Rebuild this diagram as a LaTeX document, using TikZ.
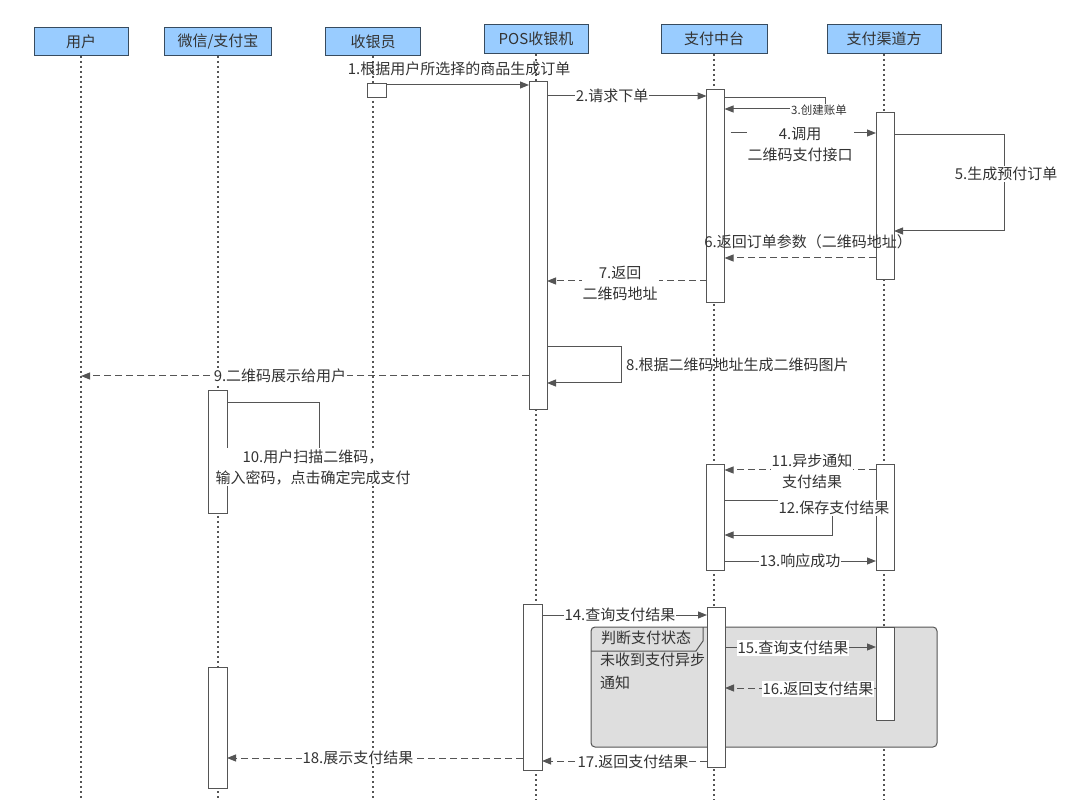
\documentclass[tikz,border=0pt]{standalone}
\usepackage{fontspec}
\setmainfont{Noto Sans CJK SC}
\usetikzlibrary{arrows.meta,calc}
\definecolor{hdfill}{RGB}{153,204,255}
\definecolor{hdline}{RGB}{55,75,95}
\definecolor{ln}{RGB}{85,85,85}
\definecolor{tx}{RGB}{51,51,51}
\definecolor{frm}{RGB}{222,222,222}
\begin{document}
\begin{tikzpicture}[x=1pt,y=-1pt,
  head/.style={draw=hdline, fill=hdfill, line width=1pt, inner sep=0pt, font=\fontsize{15}{18}\selectfont, text=tx},
  life/.style={draw=ln, line width=1.6pt, dash pattern=on 1.6pt off 3.4pt},
  act/.style={draw=ln, fill=white, line width=1pt, minimum width=18pt, inner sep=0pt, outer sep=0pt},
  msg/.style={draw=ln, line width=1pt, -{Triangle[length=9pt,width=7pt]}},
  ret/.style={msg, dash pattern=on 7pt off 4pt},
  lbl/.style={font=\fontsize{15}{21}\selectfont, text=tx, fill=white, inner sep=1pt, align=center},
  lblsmall/.style={lbl, font=\fontsize{11.5}{14}\selectfont},
  frame/.style={draw=ln, fill=frm, line width=1pt, rounded corners=4pt}
]
\useasboundingbox (0,0) rectangle (1080,810);

% headers
\node[head, minimum width=94pt, minimum height=28pt] (user) at (81,41.5) {用户};
\node[head, minimum width=107pt, minimum height=28pt] (wx) at (218,41.5) {微信/支付宝};
\node[head, minimum width=95pt, minimum height=28pt] (cash) at (373,41.5) {收银员};
\node[head, minimum width=104pt, minimum height=29pt] (pos) at (536,39) {POS收银机};
\node[head, minimum width=106pt, minimum height=29pt] (zt) at (714,39) {支付中台};
\node[head, minimum width=114pt, minimum height=29pt] (qd) at (884,39) {支付渠道方};

% lifelines
\draw[life] (user.south) -- (user.south |- 0,800);
\draw[life] (wx.south) -- (wx.south |- 0,800);
\draw[life] (cash.south) -- (cash.south |- 0,800);
\draw[life] (pos.south) -- (pos.south |- 0,800);
\draw[life] (zt.south) -- (zt.south |- 0,800);
\draw[life] (qd.south) -- (qd.south |- 0,800);

% frame
\path[frame] (591,627) rectangle (937,747);
\draw[draw=ln, line width=1pt] (591,651) -- (696,651) -- (703,641) -- (703,627);
\node[font=\fontsize{15}{18}\selectfont, text=tx, inner sep=0pt] (ftitle) at (646,638) {判断支付状态};
\node[font=\fontsize{15}{23}\selectfont, text=tx, inner sep=0pt, align=left, anchor=north west] (fcond) at (600,653) {未收到支付异步\\通知};

% activation boxes
\node[act, minimum width=19pt, minimum height=14pt] (cash1) at (376.5,91) {};
\node[act, minimum height=328pt] (pos1) at (538,246) {};
\node[act, minimum height=213pt] (zt1) at (715.5,196.5) {};
\node[act, minimum height=167pt] (qd1) at (885,196.5) {};
\node[act, minimum width=19pt, minimum height=122pt] (wx1) at (217.5,452) {};
\node[act, minimum height=105pt] (zt2) at (715.5,517.5) {};
\node[act, minimum height=105pt] (qd2) at (885,517.5) {};
\node[act, minimum width=19pt, minimum height=166pt] (pos2) at (532.5,687) {};
\node[act, minimum height=160pt] (zt3) at (716,687) {};
\node[act, minimum height=93pt] (qd3) at (885,673.5) {};
\node[act, minimum width=19pt, minimum height=121pt] (wx2) at (217.5,727.5) {};

% 1
\draw[msg] (cash1.east |- 0,85) -- (pos1.west |- 0,85);
\node[lbl, fill=none] (l1) at (459,69) {1.根据用户所选择的商品生成订单};
% 2
\draw[msg] (pos1.east |- 0,96) -- (zt1.west |- 0,96);
\node[lbl] (l2) at (612,96) {2.请求下单};
% 3
\draw[msg] (zt1.east |- 0,98) -- (825,98) -- (825,109) -- (zt1.east |- 0,109);
\node[lblsmall] (l3) at (819,110) {3.创建账单};
% 4
\draw[msg, shorten <=6pt] (zt1.east |- 0,133) -- (qd1.west |- 0,133);
\node[lbl] (l4) at (800,144.5) {4.调用\\二维码支付接口};
% 5
\draw[msg] (qd1.east |- 0,135) -- (1004,135) -- (1004,231) -- (qd1.east |- 0,231);
\node[lbl] (l5) at (1006,174) {5.生成预付订单};
% 6
\draw[ret] (qd1.west |- 0,258) -- (zt1.east |- 0,258);
\node[lbl, fill=none] (l6) at (808,242) {6.返回订单参数（二维码地址）};
% 7
\draw[ret] (zt1.west |- 0,281) -- (pos1.east |- 0,281);
\node[lbl] (l7) at (620,283) {7.返回\\二维码地址};
% 8
\draw[msg] (pos1.east |- 0,347) -- (621,347) -- (621,383) -- (pos1.east |- 0,383);
\node[lbl, fill=none, anchor=west] (l8) at (625,365) {8.根据二维码地址生成二维码图片};
% 9
\draw[ret] (pos1.west |- 0,376) -- (user.south |- 0,376);
\node[lbl] (l9) at (280,376) {9.二维码展示给用户};
% 10
\draw[msg] (wx1.east |- 0,403) -- (319,403) -- (319,472) -- (wx1.east |- 0,472);
\node[lbl] (l10) at (313,467) {10.用户扫描二维码，\\输入密码，点击确定完成支付};
% 11
\draw[ret] (qd2.west |- 0,470) -- (zt2.east |- 0,470);
\node[lbl] (l11) at (812,471) {11.异步通知\\支付结果};
% 12
\draw[msg] (zt2.east |- 0,500) -- (832,500) -- (832,535) -- (zt2.east |- 0,535);
\node[lbl] (l12) at (834,508) {12.保存支付结果};
% 13
\draw[msg] (zt2.east |- 0,561) -- (qd2.west |- 0,561);
\node[lbl] (l13) at (800,561) {13.响应成功};
% 14
\draw[msg] (pos2.east |- 0,615) -- (zt3.west |- 0,615);
\node[lbl] (l14) at (620,615) {14.查询支付结果};
% 15
\draw[msg] (zt3.east |- 0,647) -- (qd3.west |- 0,647);
\node[lbl] (l15) at (793,648) {15.查询支付结果};
% 16
\draw[ret] (qd3.west |- 0,688) -- (zt3.east |- 0,688);
\node[lbl] (l16) at (818,689) {16.返回支付结果};
% 17
\draw[ret] (zt3.west |- 0,761) -- (pos2.east |- 0,761);
\node[lbl] (l17) at (633,762) {17.返回支付结果};
% 18
\draw[ret] (pos2.west |- 0,758) -- (wx2.east |- 0,758);
\node[lbl] (l18) at (358,758) {18.展示支付结果};
\end{tikzpicture}
\end{document}
